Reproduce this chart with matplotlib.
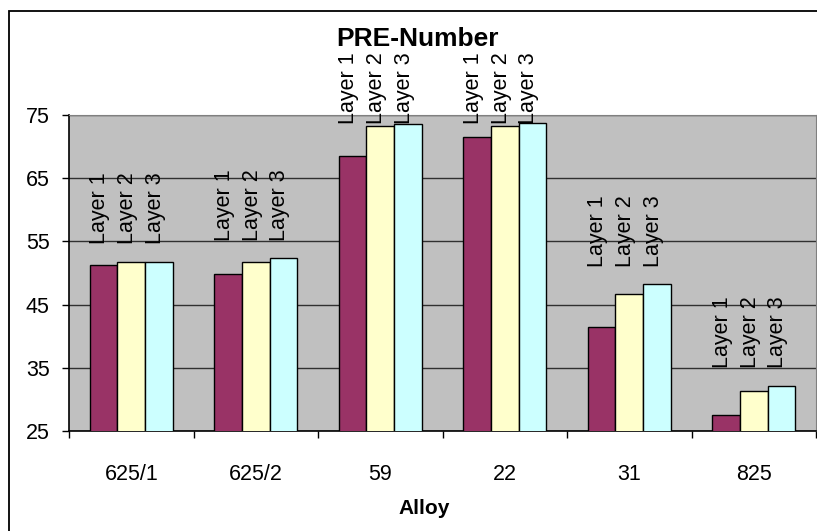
import numpy as np
import matplotlib.pyplot as plt
from matplotlib.patches import Rectangle

plt.rcParams['font.family'] = ['Liberation Sans', 'DejaVu Sans']

# PRE numbers per alloy and layer
alloys = ['625/1', '625/2', '59', '22', '31', '825']
layer1 = [51.3, 49.9, 68.5, 71.5, 41.4, 27.5]
layer2 = [51.8, 51.8, 73.3, 73.3, 46.6, 31.3]
layer3 = [51.8, 52.3, 73.5, 73.7, 48.2, 32.1]
layer_names = ['Layer 1', 'Layer 2', 'Layer 3']
colors = ['#993366', '#FFFFCC', '#CCFFFF']

fig = plt.figure(figsize=(8.17, 5.31), dpi=100)
ax = fig.add_axes([69/817, 1 - 431/531, (816 - 69)/817, (431 - 115)/531])
ax.set_facecolor('#C0C0C0')

x = np.arange(len(alloys))
w = 0.222
series = [layer1, layer2, layer3]
for i, (vals, c) in enumerate(zip(series, colors)):
    ax.bar(x + (i - 1) * w, vals, w, color=c, edgecolor='black', linewidth=1.0, zorder=3)

# rotated series labels above each group
for j in range(len(alloys)):
    top = max(s[j] for s in series)
    ybase = min(top + 2.8, 73.6)
    for i, name in enumerate(layer_names):
        ax.text(x[j] + (i - 1) * w - 0.03, ybase, name, rotation=90,
                ha='center', va='bottom', fontsize=15.5, clip_on=False, zorder=4)

ax.set_ylim(25, 75)
ax.set_yticks([25, 35, 45, 55, 65, 75])
ax.set_xlim(-0.5, len(alloys) - 0.5)
ax.set_xticks(np.arange(-0.5, len(alloys)), labels=[''] * (len(alloys) + 1))
ax.set_xticks(x, labels=alloys, minor=True)
ax.tick_params(axis='x', which='major', length=5, width=1, direction='out')
ax.tick_params(axis='x', which='minor', length=0, pad=24, labelsize=15.5)
ax.tick_params(axis='y', length=5, width=1, pad=9, labelsize=15.5)
ax.yaxis.grid(True, color='#303030', linewidth=1, zorder=1)
ax.set_axisbelow(True)

for s in ['top', 'right']:
    ax.spines[s].set_color('#808080')
for s in ['left', 'bottom']:
    ax.spines[s].set_color('black')
    ax.spines[s].set_linewidth(1.2)

fig.text(418/817, 1 - 39/531, 'PRE-Number', ha='center', va='center',
         fontsize=19, fontweight='bold')
fig.text(424/817, 1 - 508/531, 'Alloy', ha='center', va='center',
         fontsize=15, fontweight='bold')

# chart area border
fig.patches.append(Rectangle((9/817, -0.1), 1.2, 1 - 11/531 + 0.1,
                             transform=fig.transFigure, fill=False,
                             edgecolor='black', linewidth=1.3))

fig.savefig('out.png', dpi=100)
